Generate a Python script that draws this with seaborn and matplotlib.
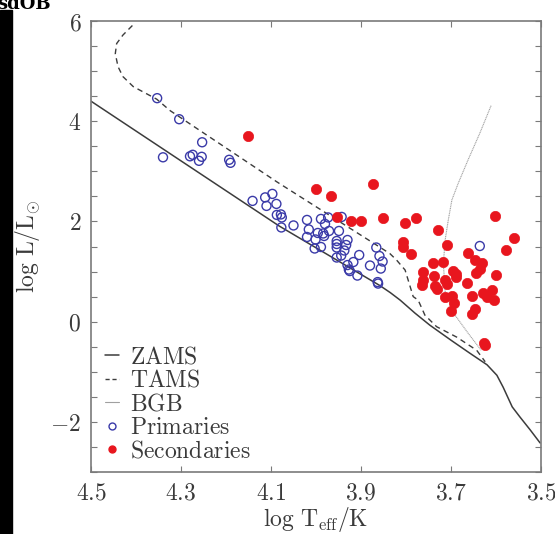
import matplotlib
matplotlib.use("Agg")
import matplotlib.pyplot as plt
import seaborn as sns
import pandas as pd
from matplotlib.ticker import FixedLocator, FuncFormatter
from matplotlib.lines import Line2D
from matplotlib.patches import Rectangle

# ---- data ----
prim_logT = [4.353, 4.304, 4.253, 4.340, 4.280, 4.274, 4.254, 4.260, 4.193, 4.190,
             4.141, 4.113, 4.097, 4.110, 4.088, 4.087, 4.078, 4.076, 4.077, 4.050,
             4.020, 3.989, 3.973, 3.943, 3.980, 4.016, 3.996, 3.971, 3.949, 4.020,
             4.001, 3.984, 3.982, 3.954, 3.930, 3.954, 3.933, 3.989, 4.003, 3.954,
             3.937, 3.944, 3.954, 3.904, 3.917, 3.930, 3.927, 3.925, 3.908, 3.880,
             3.866, 3.859, 3.852, 3.856, 3.863, 3.862, 3.636]
prim_logL = [4.46, 4.04, 3.58, 3.28, 3.30, 3.33, 3.29, 3.21, 3.23, 3.17,
             2.41, 2.48, 2.55, 2.31, 2.35, 2.13, 2.14, 2.08, 1.88, 1.92,
             2.03, 2.05, 2.08, 2.09, 1.95, 1.84, 1.77, 1.81, 1.81, 1.69,
             1.64, 1.76, 1.71, 1.61, 1.63, 1.55, 1.53, 1.49, 1.46, 1.48,
             1.42, 1.32, 1.28, 1.33, 1.19, 1.13, 1.04, 1.01, 0.92, 1.12,
             1.48, 1.31, 1.20, 1.06, 0.79, 0.76, 1.51]

sec_logT = [4.151, 4.000, 3.967, 3.873, 3.954, 3.922, 3.901, 3.852, 3.802, 3.778,
            3.730, 3.602, 3.561, 3.578, 3.806, 3.806, 3.789, 3.708, 3.739, 3.718,
            3.762, 3.737, 3.762, 3.764, 3.736, 3.731, 3.713, 3.710, 3.696, 3.689,
            3.690, 3.713, 3.698, 3.693, 3.700, 3.665, 3.663, 3.647, 3.632, 3.636,
            3.644, 3.653, 3.647, 3.654, 3.629, 3.621, 3.608, 3.605, 3.600, 3.627,
            3.624]
sec_logL = [3.70, 2.65, 2.51, 2.74, 2.08, 2.00, 2.01, 2.06, 1.97, 2.07,
            1.83, 2.10, 1.67, 1.44, 1.58, 1.50, 1.36, 1.52, 1.17, 1.20,
            0.99, 0.91, 0.84, 0.74, 0.71, 0.66, 0.84, 0.76, 1.02, 0.95,
            0.89, 0.49, 0.52, 0.38, 0.22, 0.78, 1.38, 1.24, 1.18, 1.05,
            0.98, 0.52, 0.25, 0.15, 0.58, 0.50, 0.64, 0.44, 0.94, -0.42,
            -0.47]

zams_logT = [4.50, 4.082, 3.858, 3.835, 3.813, 3.780, 3.747, 3.700, 3.658, 3.620,
             3.598, 3.584, 3.564, 3.547, 3.524, 3.502]
zams_logL = [4.40, 1.91, 0.72, 0.58, 0.43, 0.17, -0.07, -0.37, -0.63, -0.86,
             -1.07, -1.31, -1.70, -1.90, -2.16, -2.42]

tams_logT = [4.408, 4.429, 4.443, 4.446, 4.440, 4.429, 4.406, 4.354, 4.324, 4.087,
             3.836, 3.821, 3.802, 3.784, 3.773, 3.758, 3.732, 3.687, 3.643, 3.624]
tams_logL = [5.91, 5.72, 5.55, 5.35, 5.09, 4.89, 4.69, 4.44, 4.21, 2.79,
             1.36, 1.23, 1.03, 0.50, 0.43, 0.13, -0.10, -0.31, -0.57, -0.80]

bgb_logT = [3.611, 3.636, 3.662, 3.684, 3.698, 3.706, 3.713, 3.717, 3.713, 3.691, 3.662, 3.633]
bgb_logL = [4.31, 3.76, 3.23, 2.76, 2.43, 2.03, 1.63, 1.16, 0.60, 0.13, -0.23, -0.57]

x_ticks = [4.5, 4.3, 4.1, 3.9, 3.7, 3.5]
y_ticks = [-2, 0, 2, 4, 6]

# ---- style ----
sns.set_style("ticks")
plt.rcParams["mathtext.fontset"] = "cm"
plt.rcParams["font.family"] = ["DejaVu Serif"]

LINE = "#3c3c3c"
SPINE = "#7a7a7a"
TXT = "#3a3a3a"
BLUE = "#3a3aa8"
RED = "#e8161e"

fig = plt.figure(figsize=(5.55, 5.34), dpi=100)
ax = fig.add_axes([91/555, 1 - 472/534, 450/555, 451/534])

zams = pd.DataFrame({"logT": zams_logT, "logL": zams_logL})
tams = pd.DataFrame({"logT": tams_logT, "logL": tams_logL})
bgb = pd.DataFrame({"logT": bgb_logT, "logL": bgb_logL})
prim = pd.DataFrame({"logT": prim_logT, "logL": prim_logL})
sec = pd.DataFrame({"logT": sec_logT, "logL": sec_logL})

sns.lineplot(data=zams, x="logT", y="logL", sort=False, estimator=None, ax=ax,
             color=LINE, lw=1.1)
sns.lineplot(data=tams, x="logT", y="logL", sort=False, estimator=None, ax=ax,
             color=LINE, lw=1.0, dashes=False, linestyle=(0, (4, 3)))
sns.lineplot(data=bgb, x="logT", y="logL", sort=False, estimator=None, ax=ax,
             color="#a0a0a0", lw=0.8, linestyle=(0, (1, 0.6)))
sns.scatterplot(data=prim, x="logT", y="logL", ax=ax, marker="o", s=42,
                facecolor="none", edgecolor=BLUE, linewidth=1.0, zorder=3)
sns.scatterplot(data=sec, x="logT", y="logL", ax=ax, marker="o", s=55,
                color=RED, edgecolor=RED, linewidth=0.5, zorder=4)

ax.set_xlim(4.5, 3.5)
ax.set_ylim(-3, 6)
ax.xaxis.set_major_locator(FixedLocator(x_ticks))
ax.yaxis.set_major_locator(FixedLocator(y_ticks))
ax.yaxis.set_minor_locator(FixedLocator([v / 2 for v in range(-6, 13)]))
ax.xaxis.set_major_formatter(FuncFormatter(lambda v, p: r"$%.1f$" % v))
ax.yaxis.set_major_formatter(FuncFormatter(lambda v, p: r"$%d$" % round(v) if v >= 0 else r"$-%d$" % round(-v)))
ax.tick_params(which="both", direction="in", top=True, right=True, length=4,
               width=0.8, color=SPINE, labelsize=17, labelcolor=TXT, pad=7)
ax.tick_params(which="minor", labelleft=False)
for sp in ax.spines.values():
    sp.set_color(SPINE)
    sp.set_linewidth(1.2)

ax.set_xlabel(r"$\log\,\mathrm{T}_{\mathrm{eff}}/\mathrm{K}$", fontsize=17, color=TXT, labelpad=0)
ax.set_ylabel(r"$\log\,\mathrm{L}/\mathrm{L}_{\odot}$", fontsize=17, color=TXT, labelpad=6)

handles = [
    Line2D([], [], color=LINE, lw=1.1),
    Line2D([], [], color=LINE, lw=1.0, linestyle=(0, (3, 2))),
    Line2D([], [], color="#a0a0a0", lw=0.8),
    Line2D([], [], ls="none", marker="o", ms=5, mfc="none", mec=BLUE, mew=1.0),
    Line2D([], [], ls="none", marker="o", ms=5, mfc=RED, mec=RED),
]
labels = [r"$\mathrm{ZAMS}$", r"$\mathrm{TAMS}$", r"$\mathrm{BGB}$",
          r"$\mathrm{Primaries}$", r"$\mathrm{Secondaries}$"]
leg = ax.legend(handles, labels, loc="lower left", bbox_to_anchor=(-0.005, -0.015),
                frameon=False, fontsize=17, handlelength=0.6, handletextpad=0.45,
                labelspacing=0.02, borderaxespad=0.3)
for t in leg.get_texts():
    t.set_color(TXT)

# left black strip and cropped title
fig.patches.append(Rectangle((0, 0), 12/555, 1 - 10/534, transform=fig.transFigure,
                             color="black", zorder=0))
fig.text(-0.005, 1 - 9/534, "sdOB", fontsize=13, fontweight="bold",
         family=["DejaVu Serif"], va="baseline", ha="left", color="black")

fig.savefig("out.png", dpi=100)
